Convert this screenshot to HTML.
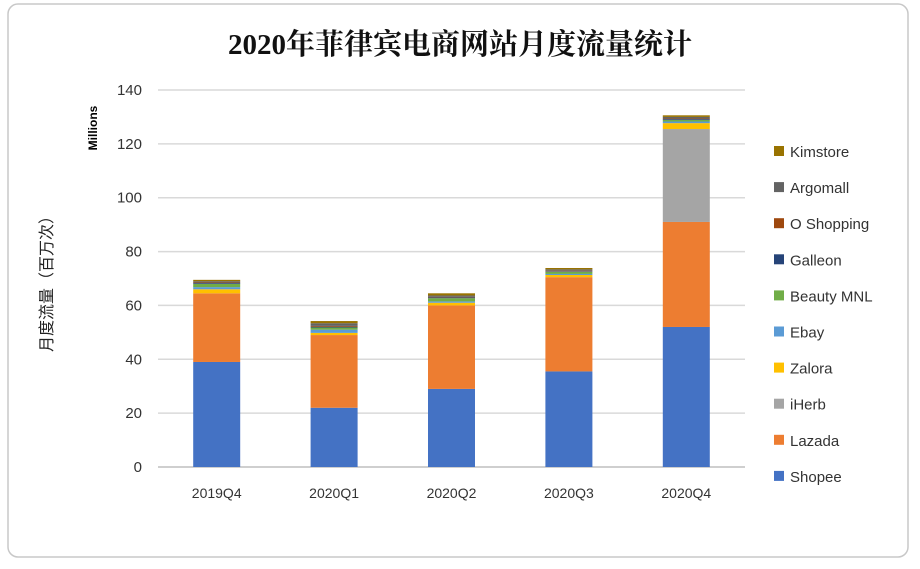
<!DOCTYPE html>
<html><head><meta charset="utf-8"><style>
body{margin:0;background:#fff;width:920px;height:564px;overflow:hidden;font-family:"Liberation Sans","Noto Sans CJK SC",sans-serif}
</style></head><body>
<svg width="920" height="564">
<rect x="8" y="4" width="900" height="553" rx="10" fill="#fff" stroke="#c8c8c8" stroke-width="1.5"/>
<text x="460" y="54" text-anchor="middle" font-family="'Liberation Serif','Noto Serif CJK SC',serif" font-size="29" font-weight="bold" fill="#111">2020年菲律宾电商网站月度流量统计</text>
<text transform="translate(97,128) rotate(-90)" text-anchor="middle" font-size="12" font-weight="bold" fill="#000">Millions</text>
<text transform="translate(52,280) rotate(-90)" text-anchor="middle" font-size="16" fill="#222">月度流量（百万次）</text>
<g id="grid"></g><g id="bars"></g><g id="legend"></g>
</svg>
<script>
const categories=["2019Q4","2020Q1","2020Q2","2020Q3","2020Q4"];
const seriesNames=["Shopee","Lazada","iHerb","Zalora","Ebay","Beauty MNL","Galleon","O Shopping","Argomall","Kimstore"];
const colors=["#4472c4","#ed7d31","#a5a5a5","#ffc000","#5b9bd5","#70ad47","#264478","#9e480e","#636363","#997300"];
const shopee=[39,22,29,35.5,52];
const lazada=[25.5,27,31,35,39];
const iherb=[0,0,0,0,34.5];
const zalora=[1.5,0.8,1,0.8,2.2];
const ebay=[0.8,1.2,0.5,0.4,0.6];
const beauty=[1.2,0.8,1.2,0.8,0.6];
const galleon=[0.3,0.3,0.3,0.2,0.3];
const oshop=[0.2,0.3,0.2,0.2,0.2];
const argomall=[0.5,1,0.5,0.5,0.6];
const kimstore=[0.5,0.8,0.8,0.5,0.6];
const yTicks=[0,20,40,60,80,100,120,140];
const series=[shopee,lazada,iherb,zalora,ebay,beauty,galleon,oshop,argomall,kimstore];
const NS="http://www.w3.org/2000/svg";
const x0=158,x1=745,yb=467,yt=90,ymax=140;
const y=v=>yb-(v/ymax)*(yb-yt);
const band=(x1-x0)/categories.length;
const xc=i=>x0+band*(i+0.5);
function mk(t,a,p){const e=document.createElementNS(NS,t);for(const k in a)e.setAttribute(k,a[k]);p.appendChild(e);return e;}
const g=document.getElementById('grid');
yTicks.forEach(v=>{
 const l=mk('line',{x1:x0,x2:x1,y1:y(v),y2:y(v),stroke:v===0?'#bfbfbf':'#d9d9d9','stroke-width':1.5},g);
 
 
 const t=mk('text',{x:x0-16,y:y(v)+5,'text-anchor':'end','font-size':15,fill:'#333'},g);
 t.textContent=v;
 
 
});
const b=document.getElementById('bars');
categories.forEach((c,i)=>{
 let acc=0;
 series.forEach((s,k)=>{
  const v=s[i]; if(v<=0)return;
  const r=mk('rect',{x:xc(i)-23.5,width:47,y:y(acc+v),height:y(acc)-y(acc+v),fill:colors[k]},b);
  
  
  acc+=v;
 });
 const t=mk('text',{x:xc(i),y:498,'text-anchor':'middle','font-size':14,fill:'#333'},b);
 t.textContent=c;
 
 
});
const lg=document.getElementById('legend');
for(let k=seriesNames.length-1;k>=0;k--){
 const idx=seriesNames.length-1-k;
 const yy=151+idx*36.1;
 const r=mk('rect',{x:774,y:yy-5,width:10,height:10,fill:colors[k]},lg);
 
 
 const t=mk('text',{x:790,y:yy+6,'font-size':15,fill:'#333'},lg);
 t.textContent=seriesNames[k];
 
 
}
</script>
</body></html>
